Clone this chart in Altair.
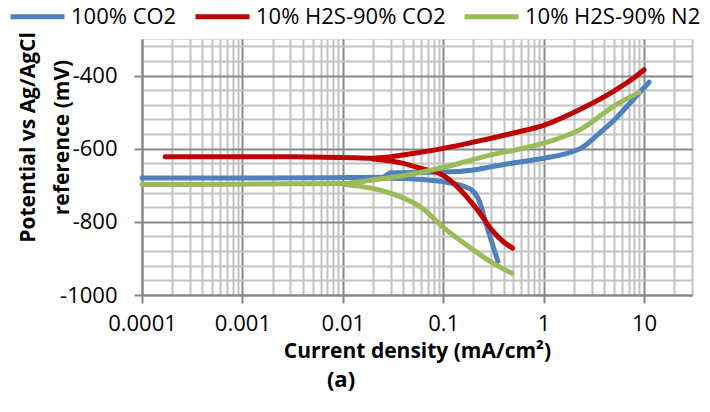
import altair as alt
import pandas as pd

series_names = ["100% CO2", "10% H2S-90% CO2", "10% H2S-90% N2"]
series_colors = ["#4F81BD", "#C00000", "#9BBB59"]

# 100% CO2
blue_up_x = [0.0001, 0.001, 0.01, 0.025, 0.03, 0.1, 0.19, 0.4, 1.0, 1.6, 2.4, 3.5, 5.1, 8.0, 11.2]
blue_up_y = [-680, -680, -679, -678, -666, -664, -659, -643, -626, -615, -597, -560, -520, -462, -418]
blue_dn_x = [0.025, 0.06, 0.1, 0.16, 0.19, 0.22, 0.24, 0.26, 0.3, 0.35]
blue_dn_y = [-680, -684, -690, -703, -712, -733, -760, -795, -850, -908]

# 10% H2S-90% CO2
red_up_x = [0.00017, 0.001, 0.003, 0.01, 0.02, 0.03, 0.05, 0.1, 0.2, 0.5, 1.0, 2.4, 5.1, 7.5, 10.0]
red_up_y = [-622, -622, -622, -624, -626, -622, -613, -599, -582, -557, -536, -490, -441, -411, -384]
red_dn_x = [0.02, 0.04, 0.06, 0.1, 0.15, 0.22, 0.32, 0.4, 0.49]
red_dn_y = [-628, -640, -654, -673, -714, -768, -829, -855, -872]

# 10% H2S-90% N2
green_up_x = [0.0001, 0.001, 0.003, 0.01, 0.015, 0.024, 0.04, 0.1, 0.3, 1.0, 2.4, 5.1, 8.9]
green_up_y = [-698, -697, -696, -695, -690, -682, -674, -651, -617, -585, -545, -482, -446]
green_dn_x = [0.01, 0.015, 0.024, 0.04, 0.06, 0.1, 0.16, 0.2, 0.3, 0.48]
green_dn_y = [-697, -703, -714, -735, -760, -815, -858, -877, -910, -940]

x_major = [0.0001, 0.001, 0.01, 0.1, 1, 10]
x_minor = [m * d for d in [0.0001, 0.001, 0.01, 0.1, 1] for m in range(2, 10)] + [20, 30]
y_major = [-1000, -800, -600, -400]
y_minor = [v for v in range(-960, -300, 40) if v not in y_major]

branches = [
    ("100% CO2", "a", blue_up_x, blue_up_y),
    ("100% CO2", "c", blue_dn_x, blue_dn_y),
    ("10% H2S-90% CO2", "a", red_up_x, red_up_y),
    ("10% H2S-90% CO2", "c", red_dn_x, red_dn_y),
    ("10% H2S-90% N2", "a", green_up_x, green_up_y),
    ("10% H2S-90% N2", "c", green_dn_x, green_dn_y),
]
rows = []
for name, br, xs, ys in branches:
    for i, (xv, yv) in enumerate(zip(xs, ys)):
        rows.append({"series": name, "branch": name + br, "x": xv, "y": yv, "i": i})
df = pd.DataFrame(rows)

FONT = "Open Sans"
AX = "#878787"
MINOR = "#C2C2C2"

x_scale = alt.Scale(type="log", domain=[0.0001, 30], nice=False)
y_scale = alt.Scale(domain=[-1000, -300], nice=False, zero=False)

base = alt.Chart(df)

minor = base.mark_line(opacity=0).encode(
    x=alt.X("x:Q", scale=x_scale, axis=alt.Axis(
        values=x_minor, orient="bottom", grid=True, gridColor=MINOR, gridWidth=2,
        labels=False, ticks=False, domain=False, title="")),
    y=alt.Y("y:Q", scale=y_scale, axis=alt.Axis(
        values=y_minor, orient="left", grid=True, gridColor=MINOR, gridWidth=2,
        labels=False, ticks=False, domain=False, title="")),
)

lines = base.mark_line(strokeWidth=5, strokeCap="round", strokeJoin="round",
                       interpolate="monotone").encode(
    x=alt.X("x:Q", scale=x_scale, axis=alt.Axis(
        values=x_major, orient="bottom", format="~g", grid=True, gridColor=AX, gridWidth=2,
        domainColor=AX, domainWidth=2, tickColor=AX, tickWidth=2, tickSize=8,
        labelFont=FONT, labelFontSize=22, labelColor="#000000", labelPadding=10,
        labelFlush=False, labelOverlap=False,
        title="Current density (mA/cm²)", titleFont=FONT, titleFontSize=21,
        titleFontWeight="bold", titleColor="#000000", titleY=62,
        titleBaseline="alphabetic")),
    y=alt.Y("y:Q", scale=y_scale, axis=alt.Axis(
        values=y_major, orient="left", grid=True, gridColor=AX, gridWidth=2,
        domainColor=AX, domainWidth=2, tickColor=AX, tickWidth=2, tickSize=8,
        labelFont=FONT, labelFontSize=22, labelColor="#000000", labelPadding=17,
        labelOverlap=False, labelExpr="'' + datum.value",
        title=["Potential vs Ag/AgCl", "reference (mV)"], titleFont=FONT,
        titleFontSize=21, titleFontWeight="bold", titleColor="#000000",
        titleLineHeight=34, titleX=-114, titleY=98, titleAngle=-90,
        titleAlign="center", titleBaseline="middle")),
    color=alt.Color("series:N", scale=alt.Scale(domain=series_names, range=series_colors),
                    legend=alt.Legend(
                        title="", orient="none", legendX=-134, legendY=-52,
                        direction="horizontal", symbolType="stroke", symbolSize=2916,
                        symbolStrokeWidth=5, labelFont=FONT, labelFontSize=22,
                        labelColor="#000000", labelOffset=4, columnPadding=8,
                        labelLimit=400)),
    detail="branch:N",
    order="i:Q",
)

chart = alt.layer(minor, lines).resolve_axis(x="independent", y="independent").properties(
    width=550, height=256,
    autosize=alt.AutoSizeParams(type="none"),
    padding={"left": 142, "top": 39, "right": 18, "bottom": 117},
    title=alt.TitleParams("(a)", orient="bottom", anchor="middle", dx=-76, offset=9,
                          font=FONT, fontSize=22, fontWeight="bold", color="#000000"),
).configure_view(strokeOpacity=0).configure(background="#FFFFFF")

chart.save("out.html", embed_options={"renderer": "svg", "actions": False})
